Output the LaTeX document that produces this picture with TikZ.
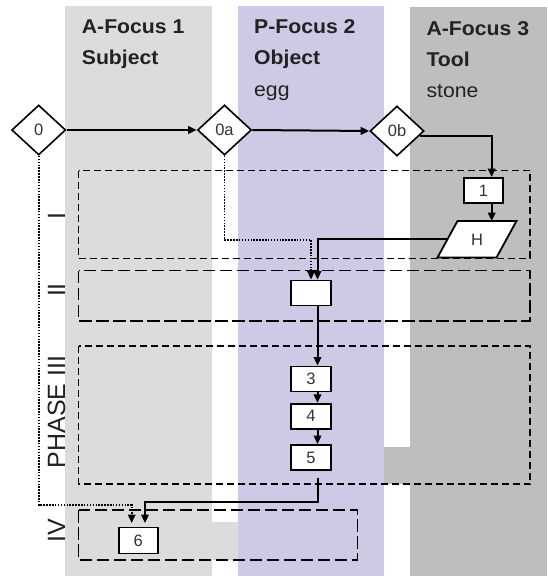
\documentclass[tikz,border=0pt]{standalone}
\usepackage{fontspec}
\setmainfont{Liberation Sans}
\newfontfamily\hdrfont[FakeStretch=1.06]{Liberation Sans}
\usetikzlibrary{shapes.geometric,arrows.meta}
\definecolor{colA}{RGB}{220,220,220}
\definecolor{colP}{RGB}{205,202,230}
\definecolor{colT}{RGB}{190,190,190}
\definecolor{ink}{RGB}{34,34,34}
\definecolor{lbl}{RGB}{51,51,51}
\begin{document}
\begin{tikzpicture}[x=1pt,y=-1pt,
  hdr/.style={anchor=base west,inner sep=0pt,text=ink,font=\hdrfont\bfseries\fontsize{20}{24}\selectfont},
  sub/.style={anchor=base west,inner sep=0pt,text=ink,font=\hdrfont\fontsize{20}{24}\selectfont},
  phase/.style={rotate=90,anchor=base,inner sep=0pt,text=ink,font=\fontsize{25}{30}\selectfont},
  dia/.style={diamond,draw,fill=white,line width=1.6pt,inner sep=0pt,minimum width=54pt,minimum height=50pt,text=lbl,font=\fontsize{16.5}{19}\selectfont},
  stepbox/.style={rectangle,draw,fill=white,line width=1.9pt,inner sep=0pt,minimum width=39.5pt,minimum height=25pt,text=lbl,font=\fontsize{16.5}{19}\selectfont},
  lbltext/.style={inner sep=0pt,text=lbl,font=\fontsize{16.5}{19}\selectfont},
  arr/.style={line width=2pt,-{Triangle[length=8.5pt,width=7.5pt]}},
  dotarr/.style={line width=1.7pt,dash pattern=on 1.5pt off 1.4pt,-{Triangle[length=8.5pt,width=7.5pt]}},
  shortdash/.style={line width=1.5pt,dash pattern=on 7pt off 4pt},
  longdash/.style={line width=1.5pt,dash pattern=on 12.5pt off 4.5pt},
]
\useasboundingbox (0,0) rectangle (547,576);
% column backgrounds
\fill[colA] (65,6) rectangle (211.7,576);
\fill[colA] (211.7,521.7) rectangle (238.3,560);
\fill[colP] (238.3,6) rectangle (384,576);
\fill[colT] (410,6.7) rectangle (547,576);
\fill[colT] (384,446.7) rectangle (410,484);
% phase frames
\draw[shortdash] (78.5,170.7) rectangle (530,258.3);
\draw[longdash] (78.5,270.7) rectangle (530,321);
\draw[shortdash] (78.5,346) rectangle (530,484);
\draw[longdash] (78.5,510) rectangle (357.3,560);
% headers
\node[hdr] (h1) at (81.7,33.3) {A-Focus 1};
\node[hdr] (h1s) at (81.7,64.3) {Subject};
\node[hdr] (h2) at (254,33.3) {P-Focus 2};
\node[hdr] (h2s) at (254,64) {Object};
\node[sub] (h2t) at (254,96.7) {egg};
\node[hdr] (h3) at (426.4,35) {A-Focus 3};
\node[hdr] (h3s) at (426.4,66.5) {Tool};
\node[sub] (h3t) at (426.4,97.5) {stone};
% phase labels
\node[phase] (pI) at (65,216) {I};
\node[phase] (pII) at (65,290) {II};
\node[phase] (pIII) at (65,412) {PHASE III};
\node[phase] (pIV) at (65,531) {IV};
% diamonds
\node[dia] (d0) at (38.7,130) {0};
\node[dia] (d0a) at (224.5,130) {0a};
\node[dia] (d0b) at (397,131) {0b};
% boxes
\node[stepbox] (n1) at (483.5,190.5) {1};
\node[stepbox] (n2) at (311,293) {};
\node[stepbox] (n3) at (311,379) {3};
\node[stepbox] (n4) at (311,416.3) {4};
\node[stepbox] (n5) at (311,457.5) {5};
\node[stepbox,minimum height=26pt] (n6) at (138.3,540.5) {6};
% parallelogram H
\draw[line width=1.8pt,fill=white] (437.5,257.5) -- (457.5,221) -- (516.5,221) -- (496.5,257.5) -- cycle;
\node[lbltext] (H) at (477,239.5) {H};
\coordinate (Hleft) at (447.3,239);
\coordinate (Htop) at (491.7,221);
\coordinate (c1) at (311,240);
\coordinate (c2) at (145,501.7);
\coordinate (c3) at (131.7,505);
% connectors
\draw[arr] (d0.east) -- (d0a.west);
\draw[arr] (d0a.east) -- (d0b.west);
\draw[arr] (d0b.-12) -| ([xshift=8.2pt]n1.north);
\draw[arr] ([xshift=8.2pt]n1.south) -- (Htop);
\draw[arr] (Hleft) -| ([xshift=6.5pt]n2.north);
\draw[dotarr] (d0a.south) |- (c1) -- (n2.north);
\draw[arr] ([xshift=6.5pt]n2.south) -- ([xshift=6.5pt]n3.north);
\draw[arr] ([xshift=6.5pt]n3.south) -- ([xshift=6.5pt]n4.north);
\draw[arr] ([xshift=6.5pt]n4.south) -- ([xshift=6.5pt]n5.north);
\draw[arr,shorten <=7pt,shorten >=3.5pt] ([xshift=6.5pt]n5.south) |- (c2) -- ([xshift=6.7pt]n6.north);
\draw[dotarr,shorten >=3.5pt] (d0.south) |- (c3) -- ([xshift=-6.6pt]n6.north);
\end{tikzpicture}
\end{document}
